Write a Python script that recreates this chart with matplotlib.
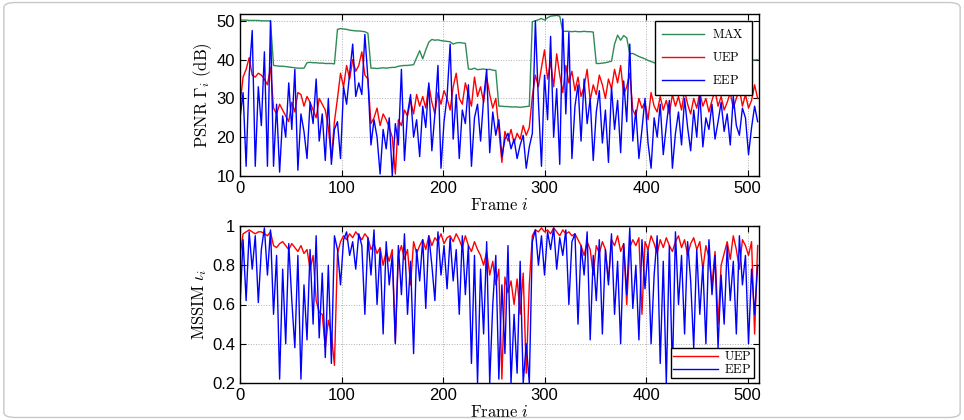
import numpy as np
import matplotlib
matplotlib.use("Agg")
import matplotlib.pyplot as plt
from matplotlib.patches import FancyBboxPatch

plt.rcParams['mathtext.fontset'] = 'cm'
plt.rcParams['font.family'] = 'Liberation Sans'

# frame step used when reading values off the picture
step = 3

# PSNR (dB), one value every 3 frames (rows = 30 frames)
psnr_max = [
    50.2, 50.2, 50.2, 50.1, 50.1, 50.1, 50.1, 50.0, 50.0, 50.0,
    50.0, 38.5, 38.4, 38.3, 38.3, 38.2, 38.1, 38.0, 37.9, 37.8,
    37.8, 37.8, 39.2, 39.3, 39.2, 39.2, 39.1, 39.1, 39.0, 39.0,
    39.0, 38.9, 47.8, 48.0, 47.9, 47.8, 47.6, 47.5, 47.4, 47.4,
    47.3, 47.2, 46.8, 37.8, 37.8, 37.7, 37.8, 37.9, 37.8, 37.9,
    38.0, 38.0, 38.3, 38.4, 38.5, 38.5, 38.6, 38.7, 40.5, 42.3,
    40.2, 42.5, 44.5, 45.2, 45.0, 45.1, 44.9, 44.8, 44.7, 44.6,
    44.0, 44.3, 44.4, 44.3, 44.2, 37.6, 37.5, 37.8, 37.4, 37.5,
    37.6, 37.4, 37.5, 37.3, 37.2, 28.0, 28.0, 27.9, 27.9, 27.8,
    27.8, 27.8, 27.7, 27.8, 27.9, 28.0, 49.8, 50.0, 50.3, 50.6,
    50.2, 50.8, 51.2, 51.3, 51.4, 51.2, 47.3, 47.3, 47.3, 47.2,
    47.3, 47.2, 47.2, 47.3, 47.2, 47.2, 47.1, 39.0, 39.0, 39.1,
    39.2, 39.4, 39.6, 44.0, 46.3, 45.0, 46.2, 45.6, 41.5, 41.6,
    41.2, 40.8, 40.5, 40.2, 39.8, 39.5, 39.2, 39.0, 38.9, 38.8,
    38.8, 38.9, 39.0, 39.0, 39.1, 39.1, 39.2, 39.2, 39.3, 39.3,
    39.4, 39.4, 39.5, 39.5, 39.5, 39.6, 39.6, 39.6, 39.7, 39.7,
    39.7, 39.8, 39.8, 39.8, 39.8, 39.9, 39.9, 39.9, 39.9, 39.9,
    40.0]

psnr_uep = [
    28.5, 35.5, 37.5, 40.5, 36.0, 35.5, 36.5, 36.0, 35.0, 33.5,
    38.0, 27.5, 26.0, 28.5, 27.0, 25.5, 24.0, 29.0, 26.5, 31.5,
    31.0, 28.0, 30.5, 29.0, 27.0, 25.0, 30.0, 28.5, 27.0, 22.5,
    14.5, 24.0, 30.0, 36.5, 33.0, 38.5, 35.0, 40.0, 37.0, 38.5,
    42.0, 36.0, 35.0, 23.5, 25.0, 27.5, 23.0, 26.0, 24.5, 22.5,
    20.0, 10.5, 24.5, 23.0, 27.0, 25.5, 29.5, 26.0, 31.0, 28.0,
    30.5, 27.5, 33.5, 29.0, 26.0, 31.5, 28.5, 32.0, 30.0, 27.0,
    33.0, 36.5, 30.0, 28.5, 34.0, 31.0, 28.0, 35.5, 30.5, 33.0,
    29.0, 35.5, 31.0, 27.5, 30.0, 22.0, 13.5, 21.5, 19.0, 22.0,
    18.5, 21.0, 19.5, 23.0, 20.5, 22.5, 30.5, 36.0, 33.0, 38.0,
    42.5, 35.0, 39.5, 33.0, 41.5, 36.0, 31.5, 38.5, 34.0, 37.0,
    32.0, 35.5, 30.5, 33.0, 37.5, 29.5, 33.5, 31.0, 36.0, 33.5,
    30.0, 35.0, 32.5, 37.5, 34.0, 38.5, 31.0, 33.0, 36.5, 27.0,
    25.5, 30.0, 27.5, 29.0, 24.5, 31.5, 28.0, 26.5, 30.5, 27.0,
    29.5, 26.0, 31.0, 28.0, 30.5, 27.0, 32.0, 28.5, 26.0, 30.0,
    27.5, 31.5, 28.0, 30.0, 26.5, 29.5, 32.0, 28.0, 30.5, 27.0,
    29.0, 31.5, 27.5, 30.0, 32.5, 28.0, 31.0, 27.5, 29.5, 33.5,
    30.0]

psnr_eep = [
    25.0, 31.5, 12.5, 36.0, 47.5, 12.5, 33.0, 23.0, 42.0, 12.5,
    50.0, 12.5, 28.5, 11.0, 25.5, 20.0, 34.0, 22.0, 37.5, 11.5,
    26.0, 21.5, 14.5, 29.0, 23.5, 35.0, 19.0, 26.0, 14.0, 30.0,
    13.0, 22.0, 24.0, 14.5, 33.0, 28.5, 36.5, 44.0, 30.5, 34.0,
    31.0, 46.5, 35.0, 18.0, 24.5, 20.0, 10.5, 22.0, 17.0, 25.0,
    10.0, 23.5, 18.0, 37.5, 14.0, 26.0, 31.0, 20.0, 24.5, 15.0,
    28.0, 22.5, 34.0, 16.5, 26.0, 38.5, 12.0, 24.0, 30.5, 44.0,
    19.5, 31.0, 14.5, 27.0, 23.5, 33.5, 12.5, 25.0, 28.5, 19.0,
    30.0, 37.5, 16.0, 26.5, 20.5, 24.5, 15.0, 19.5, 21.0, 17.0,
    19.5, 14.5, 18.0, 20.5, 12.0, 17.5, 21.0, 50.0, 29.0, 12.5,
    36.0, 24.5, 46.0, 20.0, 32.5, 13.0, 50.5, 26.0, 47.0, 14.5,
    28.0, 33.5, 19.0, 35.0, 23.5, 30.0, 14.0, 26.5, 32.0, 18.5,
    27.0, 13.5, 33.0, 22.0, 29.5, 16.0, 34.5, 24.0, 44.0, 19.0,
    27.0, 14.5, 22.0, 30.0, 18.5, 12.0, 25.0, 20.0, 28.5, 15.5,
    23.0, 29.5, 12.0, 21.0, 26.5, 18.0, 30.0, 22.5, 16.5, 27.0,
    20.0, 31.5, 17.5, 25.0, 22.0, 28.5, 19.5, 24.0, 29.0, 21.5,
    26.0, 18.0, 30.5, 23.0, 20.5, 27.5, 25.0, 15.5, 22.5, 28.0,
    24.0]

# MSSIM
ssim_uep = [
    0.85, 0.96, 0.97, 0.98, 0.97, 0.96, 0.97, 0.97, 0.96, 0.95,
    0.97, 0.90, 0.89, 0.91, 0.92, 0.90, 0.88, 0.91, 0.89, 0.87,
    0.90, 0.86, 0.88, 0.78, 0.85, 0.62, 0.56, 0.55, 0.38, 0.52,
    0.45, 0.29, 0.86, 0.92, 0.95, 0.93, 0.96, 0.94, 0.97, 0.95,
    0.93, 0.96, 0.94, 0.88, 0.91, 0.86, 0.89, 0.80, 0.87, 0.82,
    0.88, 0.41, 0.85, 0.90, 0.83, 0.88, 0.70, 0.92, 0.86, 0.90,
    0.93, 0.88, 0.95, 0.90, 0.94, 0.92, 0.96, 0.91, 0.94, 0.95,
    0.92, 0.96, 0.93, 0.89, 0.95, 0.90, 0.87, 0.92, 0.88, 0.85,
    0.80, 0.87, 0.75, 0.82, 0.70, 0.78, 0.22, 0.74, 0.66, 0.72,
    0.60, 0.73, 0.55, 0.76, 0.25, 0.70, 0.95, 0.98, 0.97, 0.99,
    0.97, 0.98, 0.96, 0.99, 0.97, 0.95, 0.98, 0.96, 0.97, 0.95,
    0.96, 0.93, 0.90, 0.85, 0.92, 0.88, 0.75, 0.90, 0.86, 0.92,
    0.88, 0.72, 0.93, 0.90, 0.95, 0.87, 0.91, 0.60, 0.89, 0.93,
    0.90, 0.94, 0.55, 0.92, 0.88, 0.95, 0.91, 0.86, 0.93, 0.89,
    0.94, 0.90, 0.87, 0.92, 0.95, 0.89, 0.93, 0.85, 0.91, 0.94,
    0.88, 0.92, 0.78, 0.90, 0.84, 0.70, 0.87, 0.50, 0.80, 0.86,
    0.92, 0.83, 0.95, 0.88, 0.78, 0.93, 0.90, 0.85, 0.92, 0.45,
    0.90]

ssim_eep = [
    0.60, 0.93, 0.62, 0.97, 0.78, 0.95, 0.61, 0.88, 0.99, 0.75,
    0.98, 0.55, 0.85, 0.22, 0.78, 0.40, 0.91, 0.62, 0.38, 0.85,
    0.22, 0.70, 0.42, 0.88, 0.50, 0.95, 0.43, 0.76, 0.33, 0.80,
    0.30, 0.95, 0.88, 0.70, 0.93, 0.97, 0.85, 0.92, 0.78, 0.96,
    0.90, 0.55, 0.94, 0.75, 0.98, 0.60, 0.88, 0.45, 0.92, 0.70,
    0.85, 0.40, 0.90, 0.65, 0.96, 0.55, 0.82, 0.35, 0.88, 0.72,
    0.93, 0.58, 0.95, 0.80, 0.62, 0.97, 0.75, 0.90, 0.68, 0.94,
    0.72, 0.88, 0.55, 0.95, 0.65, 0.90, 0.30, 0.85, 0.20, 0.78,
    0.45, 0.92, 0.20, 0.60, 0.85, 0.22, 0.70, 0.35, 0.90, 0.20,
    0.55, 0.25, 0.82, 0.20, 0.40, 0.20, 0.92, 0.98, 0.80, 0.95,
    0.75, 0.97, 0.88, 0.99, 0.78, 0.94, 0.85, 0.98, 0.60, 0.92,
    0.96, 0.50, 0.90, 0.75, 0.97, 0.42, 0.85, 0.62, 0.93, 0.45,
    0.88, 0.70, 0.96, 0.55, 0.82, 0.40, 0.91, 0.65, 0.99, 0.58,
    0.80, 0.42, 0.93, 0.68, 0.88, 0.40, 0.75, 0.95, 0.30, 0.82,
    0.20, 0.90, 0.25, 0.97, 0.60, 0.85, 0.45, 0.92, 0.72, 0.38,
    0.88, 0.55, 0.80, 0.40, 0.93, 0.65, 0.85, 0.38, 0.75, 0.50,
    0.90, 0.62, 0.82, 0.45, 0.95, 0.70, 0.85, 0.40, 0.78, 0.55,
    0.80]

c_max = '#2e8b57'
c_uep = '#ff0000'
c_eep = '#0000ff'


def frames(v):
    return step * np.arange(len(v))


def style(ax):
    ax.set_xlim(0, 511)
    ax.grid(True, linestyle=':', color='#b0b0b0', linewidth=0.7)
    ax.tick_params(direction='in', top=True, right=True, labelsize=12, length=4)
    for s in ax.spines.values():
        s.set_linewidth(1.0)
    ax.set_xlabel(r'$\mathrm{Frame}\ i$', fontsize=12, labelpad=1)


f = plt.figure(figsize=(9.64, 4.2), dpi=100)
f.patches.append(FancyBboxPatch((0.004, 0.006), 0.992, 0.988, transform=f.transFigure,
                                boxstyle='round,pad=0,rounding_size=0.012',
                                fill=False, edgecolor='#c8c8c8', linewidth=1.0))

ax1 = f.add_axes([0.249, 0.581, 0.538, 0.386])
ax1.plot(frames(psnr_max), psnr_max, color=c_max, lw=1.0, label=r'$\mathrm{MAX}$')
ax1.plot(frames(psnr_uep), psnr_uep, color=c_uep, lw=1.0, label=r'$\mathrm{UEP}$')
ax1.plot(frames(psnr_eep), psnr_eep, color=c_eep, lw=1.0, label=r'$\mathrm{EEP}$')
ax1.set_ylim(10, 51.8)
ax1.set_yticks([10, 20, 30, 40, 50])
ax1.set_xticks([0, 100, 200, 300, 400, 500])
style(ax1)
ax1.set_ylabel(r'$\mathrm{PSNR}\ \Gamma_i\ \mathrm{(dB)}$', fontsize=12, labelpad=2)
leg1 = ax1.legend(loc='upper right', fontsize=9, fancybox=False, framealpha=1,
                  edgecolor='black', handlelength=3.3, labelspacing=0.8,
                  borderpad=0.6, borderaxespad=0.55, handletextpad=0.7)
leg1.get_frame().set_linewidth(1.0)

ax2 = f.add_axes([0.249, 0.088, 0.538, 0.374])
ax2.plot(frames(ssim_uep), ssim_uep, color=c_uep, lw=1.0, label=r'$\mathrm{UEP}$')
ax2.plot(frames(ssim_eep), ssim_eep, color=c_eep, lw=1.0, label=r'$\mathrm{EEP}$')
ax2.set_ylim(0.2, 1.0)
ax2.set_yticks([0.2, 0.4, 0.6, 0.8, 1.0])
ax2.set_yticklabels(['0.2', '0.4', '0.6', '0.8', '1'])
ax2.set_xticks([0, 100, 200, 300, 400, 500])
style(ax2)
ax2.set_ylabel(r'$\mathrm{MSSIM}\ \iota_i$', fontsize=12, labelpad=2)
leg2 = ax2.legend(loc='lower right', fontsize=9, fancybox=False, framealpha=1,
                  edgecolor='black', handlelength=3.6, labelspacing=0.0,
                  borderpad=0.15, borderaxespad=0.4, handletextpad=0.5)
leg2.get_frame().set_linewidth(1.0)

plt.savefig('out.png', dpi=100)
